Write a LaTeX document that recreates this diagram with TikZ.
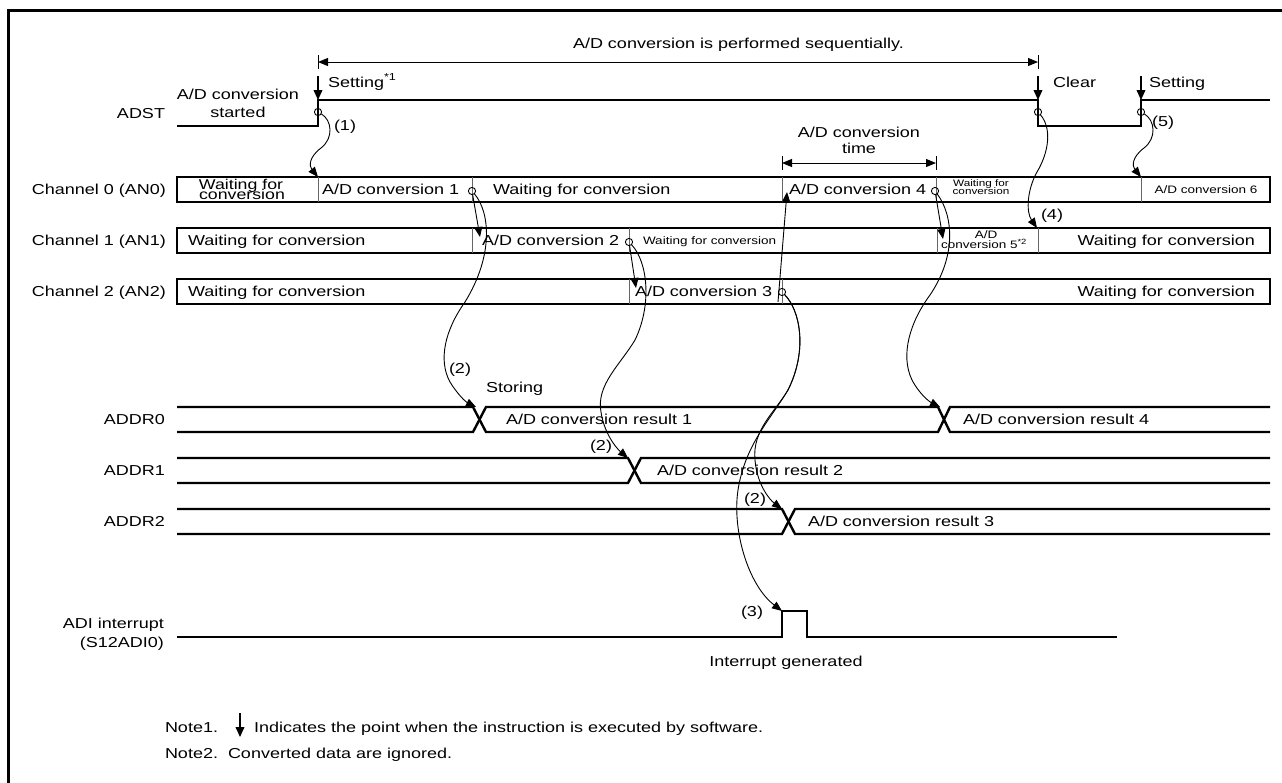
\documentclass[tikz,border=0pt]{standalone}
\usepackage{fontspec}
\setmainfont{Liberation Sans}[FakeStretch=1.25]
\usetikzlibrary{arrows.meta}
\begin{document}
\begin{tikzpicture}[x=0.5pt,y=-0.5pt,
  every node/.style={inner sep=0pt,outer sep=0pt,font=\fontsize{7.2}{8.5}\selectfont},
  sig/.style={line width=1.2pt,line join=miter},
  hair/.style={line width=0.5pt},
  sepline/.style={line width=0.5pt,black!60},
  swarrow/.style={line width=0.55pt,-{Triangle[length=5pt,width=4.4pt]}},
  flow/.style={line width=0.45pt,-{Triangle[length=5pt,width=4pt]}},
  ring/.style={circle,draw,line width=0.45pt,minimum size=3.6pt,inner sep=0pt},
  rowlab/.style={anchor=base east},
  lt/.style={anchor=base west},
  rt/.style={anchor=base east},
  ct/.style={anchor=base},
  fmid/.style={font=\fontsize{7.1}{8}\selectfont},
  fsmall/.style={font=\fontsize{5.4}{6}\selectfont},
  ftiny/.style={font=\fontsize{4.7}{5}\selectfont},
]
\useasboundingbox (0,0) rectangle (1282,783);
% outer frame
\begin{scope}
  \clip (0,0) rectangle (1282,783);
  \draw[line width=1.5pt] (8,800) -- (8,10) -- (1300,10);
\end{scope}

% ---------- row labels ----------
\node[rowlab] (lADST) at (165,118) {ADST};
\node[rowlab] (lCH0) at (166,194.5) {Channel 0 (AN0)};
\node[rowlab] (lCH1) at (166,245.5) {Channel 1 (AN1)};
\node[rowlab] (lCH2) at (166,296.5) {Channel 2 (AN2)};
\node[rowlab] (lR0) at (165,424) {ADDR0};
\node[rowlab] (lR1) at (165,475) {ADDR1};
\node[rowlab] (lR2) at (165,526) {ADDR2};
\node[rowlab] (lADI1) at (164,628) {ADI interrupt};
\node[rowlab] (lADI2) at (164,647) {(S12ADI0)};

% ---------- sequential conversion span ----------
\coordinate (seqL) at (318,62);
\coordinate (seqR) at (1038,62);
\draw[hair] (318,55) -- (318,69);
\draw[hair] (1038,55) -- (1038,69);
\draw[hair,{Triangle[length=5pt,width=4pt]}-{Triangle[length=5pt,width=4pt]}] (seqL) -- (seqR);
\node[lt] (seqtxt) at (573,48) {A/D conversion is performed sequentially.};

% ---------- ADST ----------
\draw[sig] (177,126) -- (318,126) -- (318,100) -- (1038,100) -- (1038,126)
  -- (1141,126) -- (1141,100) -- (1270,100);
\node[ct] (startA) at (238,99.5) {A/D conversion};
\node[ct] (startB) at (238,117) {started};
\coordinate (sw1a) at (318,76);  \coordinate (sw1b) at (318,100);
\coordinate (sw2a) at (1038,76); \coordinate (sw2b) at (1038,100);
\coordinate (sw3a) at (1141,76); \coordinate (sw3b) at (1141,100);
\draw[swarrow] (sw1a) -- (sw1b);
\draw[swarrow] (sw2a) -- (sw2b);
\draw[swarrow] (sw3a) -- (sw3b);
\node[lt] (set1) at (328,87) {Setting\textsuperscript{*1}};
\node[lt] (clr) at (1053,87) {Clear};
\node[lt] (set2) at (1149,87) {Setting};
\node[ring] (a1) at (318,112) {};
\node[ring] (a2) at (1038,112) {};
\node[ring] (a3) at (1141,112) {};

% ---------- conversion time ----------
\draw[hair] (782,156) -- (782,170);
\draw[hair] (936,156) -- (936,170);
\coordinate (ctL) at (782,163);
\coordinate (ctR) at (936,163);
\draw[hair,{Triangle[length=5pt,width=4pt]}-{Triangle[length=5pt,width=4pt]}] (ctL) -- (ctR);
\node[ct] (ctA) at (859,137) {A/D conversion};
\node[ct] (ctB) at (859,153) {time};

% ---------- channel rows ----------
\draw[sig] (177,177) rectangle (1270,202);
\draw[sig] (177,228) rectangle (1270,253);
\draw[sig] (177,279) rectangle (1270,304);
% channel 0
\draw[sepline] (318,177) -- (318,202);
\draw[sepline] (472,177) -- (472,202);
\draw[sepline] (782,177) -- (782,202);
\draw[sepline] (936,177) -- (936,202);
\draw[sepline] (1141,177) -- (1141,202);
\node[ct,fmid] (w0a) at (241,189) {Waiting for};
\node[ct,fmid] (w0b) at (242,199.5) {conversion};
\node[lt] (cv1) at (322,194.5) {A/D conversion 1};
\node[lt] (w0c) at (493,194.5) {Waiting for conversion};
\node[lt] (cv4) at (789,194.5) {A/D conversion 4};
\node[ct,ftiny] (w0d) at (981,186.5) {Waiting for};
\node[ct,ftiny] (w0e) at (981,194.5) {conversion};
\node[ct,fsmall] (cv6) at (1206,193) {A/D conversion 6};
% channel 1
\draw[sepline] (472,228) -- (472,253);
\draw[sepline] (629,228) -- (629,253);
\draw[sepline] (937,228) -- (937,253);
\draw[sepline] (1038,228) -- (1038,253);
\node[lt] (w1a) at (188,245.5) {Waiting for conversion};
\node[lt] (cv2) at (482,245.5) {A/D conversion 2};
\node[lt,fsmall] (w1b) at (643,244) {Waiting for conversion};
\node[ct,fsmall] (cv5a) at (986,238.5) {A/D};
\node[lt,fsmall] (cv5b) at (941,248.5) {conversion 5\textsuperscript{*2}};
\node[rt] (w1c) at (1255,245.5) {Waiting for conversion};
% channel 2
\draw[sepline] (629,279) -- (629,304);
\draw[sepline] (782,279) -- (782,304);
\node[lt] (w2a) at (188,296.5) {Waiting for conversion};
\node[lt] (cv3) at (635,296.5) {A/D conversion 3};
\node[rt] (w2b) at (1255,296.5) {Waiting for conversion};

% end-of-conversion marks
\node[ring] (c1) at (472,191) {};
\node[ring] (c2) at (629,242) {};
\node[ring] (c3) at (782,292) {};
\node[ring] (c4) at (935,191) {};

% ---------- result registers ----------
\draw[sig] (177,407) -- (473,407) -- (486,432) -- (938,432) -- (950,407) -- (1270,407);
\draw[sig] (177,432) -- (473,432) -- (486,407) -- (938,407) -- (950,432) -- (1270,432);
\draw[sig] (177,458) -- (628,458) -- (641,483) -- (1270,483);
\draw[sig] (177,483) -- (628,483) -- (641,458) -- (1270,458);
\draw[sig] (177,509) -- (782,509) -- (795,534) -- (1270,534);
\draw[sig] (177,534) -- (782,534) -- (795,509) -- (1270,509);
\node[lt] (st) at (486,392) {Storing};
\node[lt] (res1) at (506,424) {A/D conversion result 1};
\node[lt] (res4) at (963,424) {A/D conversion result 4};
\node[lt] (res2) at (657,475) {A/D conversion result 2};
\node[lt] (res3) at (808,526) {A/D conversion result 3};

% ---------- interrupt ----------
\draw[sig] (177,637) -- (782,637) -- (782,611) -- (807,611) -- (807,637) -- (1117,637);
\node[ct] (intg) at (786,666) {Interrupt generated};

% ---------- targets ----------
\coordinate (t1) at (318,177);
\coordinate (t5) at (1141,177);
\coordinate (t4) at (1037,228);
\coordinate (s1) at (480,237);
\coordinate (s2) at (636,288);
\coordinate (s4) at (943,239);
\coordinate (u3) at (778,302);
\coordinate (t4up) at (787,192);
\coordinate (x0a) at (476,407);
\coordinate (x1) at (628,458);
\coordinate (x2) at (782,509);
\coordinate (x0b) at (940,407);
\coordinate (pulse) at (782,611);

% ---------- sequence arrows ----------
\draw[flow] (a1) .. controls (332,120) and (334,138) .. (321,148)
  .. controls (309,157) and (309,166) .. (t1);
\draw[flow] (a3) .. controls (1155,120) and (1157,138) .. (1144,148)
  .. controls (1132,157) and (1132,166) .. (t5);
\draw[flow] (a2) .. controls (1052,128) and (1049,152) .. (1037,172)
  .. controls (1027,190) and (1026,212) .. (t4);

\draw[flow] (c1) -- (s1);
\draw[flow] (c2) -- (s2);
\draw[flow] (c4) -- (s4);
\draw[flow] (u3) -- (t4up);

\draw[flow] (c1) .. controls (490,212) and (494,255) .. (465,302)
  .. controls (445,330) and (438,360) .. (450,382)
  .. controls (458,395) and (466,402) .. (x0a);
\draw[flow] (c2) .. controls (648,262) and (652,305) .. (635,340)
  .. controls (620,365) and (596,385) .. (601,412)
  .. controls (604,432) and (615,447) .. (x1);
\draw[flow] (c3) .. controls (800,310) and (808,350) .. (788,390)
  .. controls (775,412) and (752,430) .. (755,460)
  .. controls (757,485) and (770,500) .. (x2);
\draw[flow] (c3) .. controls (800,310) and (808,350) .. (788,390)
  .. controls (770,420) and (745,445) .. (738,490)
  .. controls (732,530) and (748,585) .. (pulse);
\draw[flow] (c4) .. controls (953,215) and (957,255) .. (930,295)
  .. controls (910,322) and (900,355) .. (912,380)
  .. controls (920,395) and (930,402) .. (x0b);

% step numbers
\node (n1) at (345,127) {(1)};
\node (n5) at (1163,123) {(5)};
\node (n4) at (1052,216) {(4)};
\node (n2a) at (460,370) {(2)};
\node (n2b) at (601,447) {(2)};
\node (n2c) at (755,500) {(2)};
\node (n3) at (752,613) {(3)};

% ---------- notes ----------
\node[lt] (note1) at (165,732) {Note1.};
\coordinate (na) at (240,713);
\coordinate (nb) at (240,737);
\draw[swarrow] (na) -- (nb);
\node[lt] (note1t) at (254,732) {Indicates the point when the instruction is executed by software.};
\node[lt] (note2) at (165,758) {Note2.};
\node[lt] (note2t) at (228,758) {Converted data are ignored.};
\end{tikzpicture}
\end{document}
